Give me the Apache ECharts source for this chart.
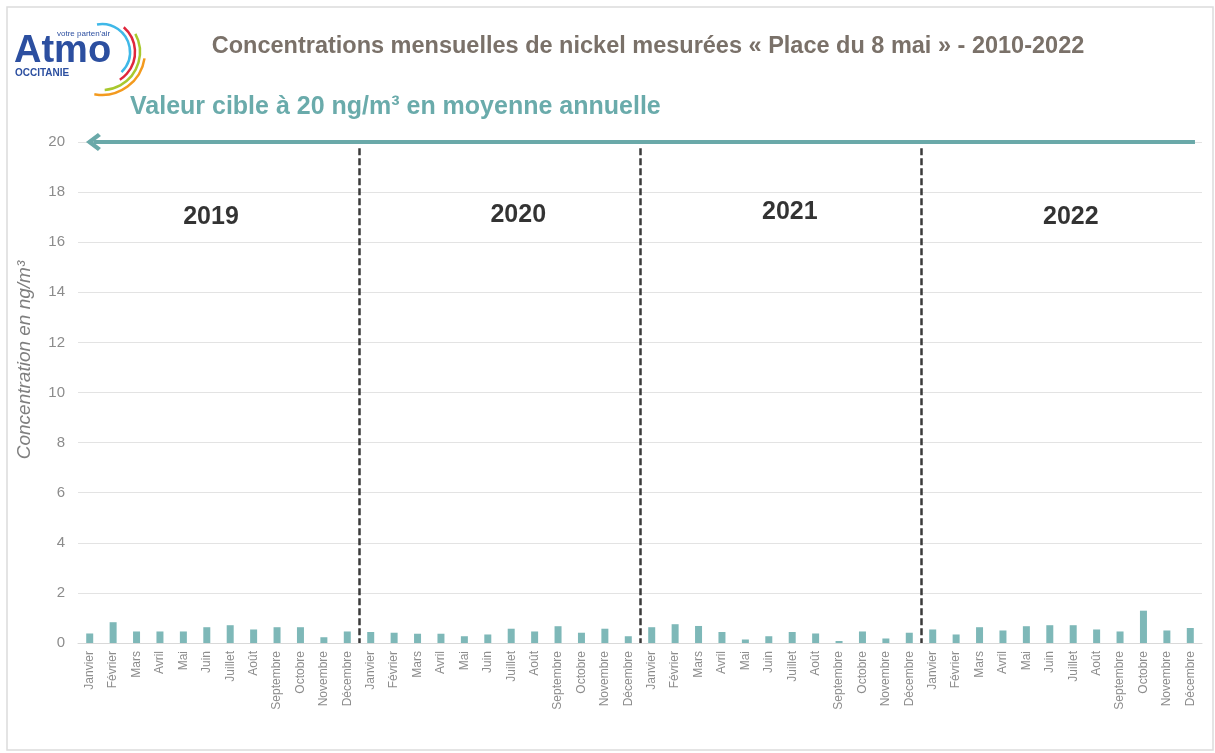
<!DOCTYPE html>
<html><head><meta charset="utf-8">
<script src="https://cdn.jsdelivr.net/npm/echarts@6/dist/echarts.min.js"></script>
<style>html,body{margin:0;padding:0;background:#fff}#c{width:1215px;height:753px}</style>
</head><body><div id="c"></div>
<script>
const months = ['Janvier','Février','Mars','Avril','Mai','Juin','Juillet','Août','Septembre','Octobre','Novembre','Décembre'];
const years = ['2019','2020','2021','2022'];
const v2019 = [0.38,0.83,0.46,0.46,0.46,0.63,0.71,0.54,0.63,0.63,0.23,0.46];
const v2020 = [0.44,0.41,0.37,0.37,0.27,0.34,0.57,0.46,0.67,0.41,0.57,0.27];
const v2021 = [0.63,0.75,0.68,0.44,0.14,0.27,0.44,0.38,0.08,0.46,0.18,0.41];
const v2022 = [0.54,0.34,0.63,0.50,0.67,0.71,0.71,0.54,0.46,1.29,0.50,0.60];
const targetValue = 20;
const yTicks = [0,2,4,6,8,10,12,14,16,18,20];
// year label anchor positions (in month-index units, value units)
const yearLabelX = [5.68,18.8,30.4,42.4];
const yearLabelY = [17.0,17.1,17.2,17.0];
// target arrow extent (month-index units)
const arrowFrom = 0.66, arrowTo = 47.7;

const categories = [];
const values = [];
[v2019,v2020,v2021,v2022].forEach((arr,yi)=>{arr.forEach((v,mi)=>{categories.push(months[mi]+' '+years[yi]);values.push(v);});});
const separators = [12,24,36];

const FONT = "'Liberation Sans Narrow','Liberation Sans',Arial,sans-serif";
const chart = echarts.init(document.getElementById('c'));
chart.setOption({
  animation:false,
  backgroundColor:'#fff',
  title:{text:'Concentrations mensuelles de nickel mesurées « Place du 8 mai » - 2010-2022',left:643,top:30,textAlign:'center',
    textStyle:{fontFamily:FONT,fontSize:23.5,fontWeight:'bold',color:'#7a7169'}},
  grid:{left:78,top:142,width:1124,height:501,containLabel:false,outerBoundsMode:'none'},
  xAxis:[{type:'category',data:categories,axisTick:{show:false},
     axisLine:{lineStyle:{color:'#d9d9d9',width:1}},
     axisLabel:{rotate:90,interval:0,color:'#8c8c8c',fontFamily:FONT,fontSize:12,margin:8,
       formatter:v=>v.split(' ')[0]}},
    {type:'value',min:0,max:48,show:false}],
  yAxis:{type:'value',min:0,max:20,interval:2,
    axisLine:{show:false},axisTick:{show:false},
    axisLabel:{color:'#8c8c8c',fontFamily:FONT,fontSize:15,margin:13,align:'right',
      formatter:v=>yTicks.includes(v)?String(v):''},
    splitLine:{lineStyle:{color:'#e3e3e3',width:1}}},
  series:[
    {type:'bar',data:values,barWidth:7,itemStyle:{color:'#7eb8b8'}},
    {type:'scatter',xAxisIndex:1,symbolSize:0,
     data:years.map((y,i)=>({value:[yearLabelX[i],yearLabelY[i]],name:y})),
     label:{show:true,position:'inside',formatter:p=>p.name,fontFamily:"'Liberation Sans',Arial,sans-serif",fontSize:25,fontWeight:'bold',color:'#000'},
     markLine:{silent:true,symbol:'none',label:{show:false},
       lineStyle:{color:'#3a3a3a',width:2.5,type:[7,3]},
       data:separators.map(s=>[{coord:[s,19.75]},{coord:[s,0]}])}},
    {type:'scatter',xAxisIndex:1,symbolSize:0,data:[],
     markLine:{silent:true,symbol:['path://M9,0 L18,12 L15,15 L9,7 L3,15 L0,12 Z','none'],symbolSize:[18,15],
       lineStyle:{color:'#6aa9a9',width:4,type:'solid'},itemStyle:{color:'#6aa9a9'},label:{show:false},
       data:[[{coord:[arrowFrom,targetValue]},{coord:[arrowTo,targetValue]}]]}}
  ],
  graphic:[
    {type:'rect',shape:{x:7,y:7,width:1206,height:743},style:{fill:null,stroke:'#dcdcdc',lineWidth:1.5},silent:true},
    {type:'text',x:25,y:360,rotation:Math.PI/2,style:{text:'Concentration en ng/m³',fontFamily:FONT,fontSize:19,fontStyle:'italic',fill:'#7f7f7f',align:'center',verticalAlign:'middle'}},
    {type:'text',left:130,top:95,style:{text:'Valeur cible à 20 ng/m³ en moyenne annuelle',fontFamily:FONT,fontSize:25,fontWeight:'bold',fill:'#6aabab'}},
    {type:'text',left:14,top:33,style:{text:'Atmo',fontFamily:"'Liberation Sans',Arial,sans-serif",fontSize:38,fontWeight:'bold',fill:'#2c4fa0'}},
    {type:'text',left:57,top:30,style:{text:"votre parten'air",fontFamily:"'Liberation Sans',Arial,sans-serif",fontSize:8,fill:'#2c4fa0'}},
    {type:'text',left:15,top:68,style:{text:'OCCITANIE',fontFamily:"'Liberation Sans',Arial,sans-serif",fontSize:10,fontWeight:'bold',fill:'#2c4fa0'}},
    {type:'arc',shape:{cx:102,cy:52,r:28,startAngle:-1.75,endAngle:0.8},style:{stroke:'#3fb8e8',lineWidth:2.5,fill:null}},
    {type:'arc',shape:{cx:102,cy:52,r:33,startAngle:-0.85,endAngle:1.0},style:{stroke:'#e0263c',lineWidth:2.5,fill:null}},
    {type:'arc',shape:{cx:102,cy:52,r:38,startAngle:-0.5,endAngle:1.5},style:{stroke:'#a8c82e',lineWidth:2.5,fill:null}},
    {type:'arc',shape:{cx:102,cy:52,r:43,startAngle:0.15,endAngle:1.75},style:{stroke:'#f39a1e',lineWidth:2.5,fill:null}}
  ]
});
</script></body></html>
